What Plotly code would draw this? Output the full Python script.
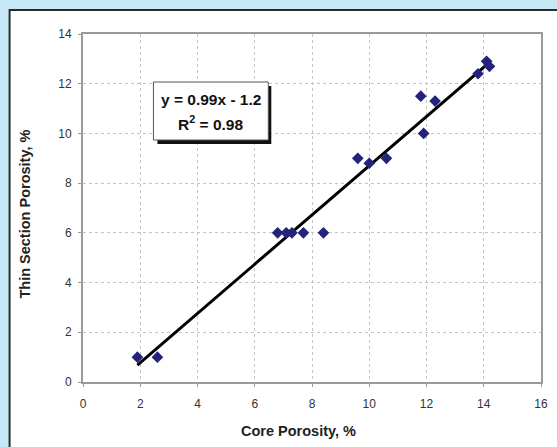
import plotly.graph_objects as go

# Core porosity vs. thin-section porosity measurements (%)
core_porosity = [1.9, 2.6, 6.8, 7.1, 7.3, 7.7, 8.4, 9.6, 10.0, 10.6,
                 11.8, 11.9, 12.3, 13.8, 14.1, 14.2]
thin_section_porosity = [1.0, 1.0, 6.0, 6.0, 6.0, 6.0, 6.0, 9.0, 8.8, 9.0,
                         11.5, 10.0, 11.3, 12.4, 12.9, 12.7]

# Linear trend: y = slope * x + intercept
slope = 0.99
intercept = -1.2
r_squared = 0.98

x_ticks = [0, 2, 4, 6, 8, 10, 12, 14, 16]
y_ticks = [0, 2, 4, 6, 8, 10, 12, 14]

W, H = 557, 447
L, R, T, B = 82.5, 16, 34, 65
pw, ph = W - L - R, H - T - B

def px_to_x(px):
    return (px - L) / pw

def px_to_y(py):
    return 1 - (py - T) / ph

x_min, x_max = min(core_porosity), max(core_porosity)
trend_x = [x_min, x_max]
trend_y = [slope * v + intercept for v in trend_x]

fig = go.Figure()

fig.add_trace(go.Scatter(
    x=trend_x, y=trend_y, mode="lines",
    line=dict(color="black", width=3),
    hoverinfo="skip", showlegend=False,
))

fig.add_trace(go.Scatter(
    x=core_porosity, y=thin_section_porosity, mode="markers",
    marker=dict(symbol="diamond", size=9, color="#23237c"),
    showlegend=False,
))

axis_common = dict(
    showgrid=True, gridcolor="#c4c4c4", gridwidth=1, griddash="dot",
    zeroline=False, showline=True, linecolor="#9a9a9a", linewidth=2,
    mirror=True, ticks="outside", ticklen=3, tickcolor="#9a9a9a",
    tickfont=dict(family="Liberation Sans, Arial", size=12, color="#333333"),
)

fig.update_xaxes(range=[0, 16], tickvals=x_ticks, ticklabelstandoff=7,
                 **axis_common)
fig.update_yaxes(range=[0, 14], tickvals=y_ticks, ticklabelstandoff=4,
                 **axis_common)

shapes = [
    # white framed panel
    dict(type="rect", xref="paper", yref="paper",
         x0=px_to_x(9), x1=px_to_x(W + 20), y0=px_to_y(H + 20), y1=px_to_y(10),
         fillcolor="white", line=dict(color="#2b2b2b", width=2), layer="below"),
    # equation box shadow
    dict(type="rect", xref="paper", yref="paper",
         x0=px_to_x(157), x1=px_to_x(271), y0=px_to_y(144), y1=px_to_y(86),
         fillcolor="#111111", line=dict(width=0)),
    # equation box
    dict(type="rect", xref="paper", yref="paper",
         x0=px_to_x(153), x1=px_to_x(268), y0=px_to_y(140), y1=px_to_y(82),
         fillcolor="white", line=dict(color="#555555", width=1)),
]

title_font = dict(family="Liberation Sans, Arial", size=14.5, color="#222222")
eq_font = dict(family="Liberation Sans, Arial", size=15.5, color="#111111")

annotations = [
    dict(text="<b>y = %.2fx - %.1f</b>" % (slope, -intercept),
         xref="paper", yref="paper", x=px_to_x(210.5), y=px_to_y(99),
         showarrow=False, font=eq_font, xanchor="center", yanchor="middle"),
    dict(text="<b>R<sup>2</sup> = %.2f</b>" % r_squared,
         xref="paper", yref="paper", x=px_to_x(210.5), y=px_to_y(123),
         showarrow=False, font=eq_font, xanchor="center", yanchor="middle"),
    dict(text="<b>Core Porosity, %</b>",
         xref="paper", yref="paper", x=px_to_x(298), y=px_to_y(431),
         showarrow=False, font=title_font, xanchor="center", yanchor="middle"),
    dict(text="<b>Thin Section Porosity, %</b>",
         xref="paper", yref="paper", x=px_to_x(24), y=px_to_y(214),
         showarrow=False, font=title_font, textangle=-90,
         xanchor="center", yanchor="middle"),
]

fig.update_layout(
    width=W, height=H,
    margin=dict(l=L, r=R, t=T, b=B, autoexpand=False),
    paper_bgcolor="#c6e8f7",
    plot_bgcolor="white",
    shapes=shapes,
    annotations=annotations,
)

fig.write_html("out.html")
